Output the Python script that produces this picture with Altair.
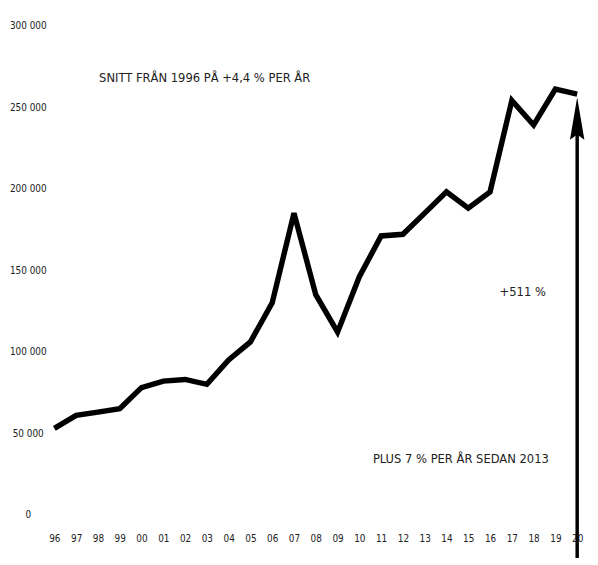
import altair as alt
import pandas as pd

years = list(range(1996, 2021))
values = [53000, 61000, 63000, 65000, 78000, 82000, 83000, 80000, 95000, 106000,
          130000, 185000, 135000, 112000, 146000, 171000, 172000, 185000, 198000,
          188000, 198000, 254000, 239000, 261000, 258000]

y_ticks = [0, 50000, 100000, 150000, 200000, 250000, 300000]

ann_text = ["SNITT FRÅN 1996 PÅ +4,4 % PER ÅR", "+511 %", "PLUS 7 % PER ÅR SEDAN 2013"]
ann_x = [2002.9, 2017.5, 2014.66]
ann_y = [268000, 136500, 34000]

arrow_x = [2020]
arrow_bottom = [-30000]
arrow_top = [236000]
arrow_head = [243000]

FONT = "DejaVu Sans Condensed, Liberation Sans, sans-serif"

df = pd.DataFrame({"year": years, "value": values})
ann = pd.DataFrame({"text": ann_text, "year": ann_x, "value": ann_y})
arr = pd.DataFrame({"year": arrow_x, "value": arrow_bottom, "value2": arrow_top})
arrh = pd.DataFrame({"year": arrow_x, "value": arrow_head})

xscale = alt.Scale(domain=[1996, 2020], nice=False, zero=False)
yscale = alt.Scale(domain=[0, 300000], nice=False)

xaxis = alt.Axis(values=years, title=None, domain=False, ticks=False, grid=False,
                 labelExpr="slice('' + datum.value, 2)", labelFont=FONT,
                 labelFontSize=10, labelColor="#222", labelPadding=19,
                 labelFlush=False, labelOverlap=False, labelSeparation=0)
yaxis = alt.Axis(values=y_ticks, title=None, domain=False, ticks=False, grid=False,
                 labelExpr="replace(format(datum.value, ','), regexp(',', 'g'), ' ')",
                 labelFont=FONT, labelFontSize=10, labelColor="#222",
                 labelAlign="center", labelPadding=27)

X = alt.X("year:Q", scale=xscale, axis=xaxis)
Y = alt.Y("value:Q", scale=yscale, axis=yaxis)

line = alt.Chart(df).mark_line(color="black", strokeWidth=5.5, strokeJoin="miter").encode(
    x=X, y=Y,
)

text = alt.Chart(ann).mark_text(font=FONT, fontSize=13, color="#222").encode(
    x=X, y=Y, text="text:N",
)

rule = alt.Chart(arr).mark_rule(color="black", strokeWidth=3.5).encode(
    x=X, y=Y, y2="value2:Q",
)

head = alt.Chart(arrh).mark_point(
    shape="M0,-1L0.34,1L0,0.75L-0.34,1Z", filled=True, color="black", opacity=1, size=1850
).encode(
    x=X, y=Y,
)

chart = alt.layer(line, text, rule, head).properties(
    width=530, height=496,
    autosize=alt.AutoSizeParams(type="none"),
    padding={"left": 47, "top": 14, "right": 13, "bottom": 40},
    background="white",
).configure_view(stroke=None)

chart.save("out.html", embed_options={"renderer": "svg", "actions": False})
